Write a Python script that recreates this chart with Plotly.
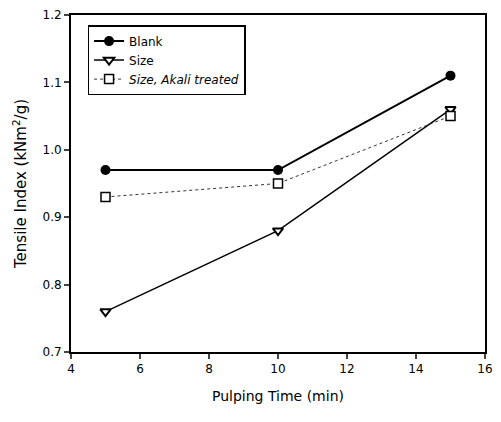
import plotly.graph_objects as go

time = [5, 10, 15]
blank = [0.97, 0.97, 1.11]
size = [0.76, 0.88, 1.06]
size_alkali = [0.93, 0.95, 1.05]
x_ticks = [4, 6, 8, 10, 12, 14, 16]
y_ticks = [0.7, 0.8, 0.9, 1.0, 1.1, 1.2]

fig = go.Figure()
fig.add_trace(go.Scatter(x=time, y=blank, name="Blank", mode="lines+markers",
                         line=dict(color="black", width=2),
                         marker=dict(symbol="circle", size=10, color="black")))
fig.add_trace(go.Scatter(x=time, y=size, name="Size", mode="lines+markers",
                         line=dict(color="black", width=1.5),
                         marker=dict(symbol="triangle-down", size=9, color="white",
                                     line=dict(color="black", width=2))))
fig.add_trace(go.Scatter(x=time, y=size_alkali, name="<i>Size, Akali treated</i>", mode="lines+markers",
                         line=dict(color="#333333", width=1, dash="dot"),
                         marker=dict(symbol="square", size=9, color="white",
                                     line=dict(color="black", width=1.5))))

fig.update_layout(
    width=501, height=422,
    margin=dict(l=71, r=8, t=15, b=70),
    paper_bgcolor="white", plot_bgcolor="white",
    font=dict(family="DejaVu Sans", color="black", size=12),
    showlegend=True,
    legend=dict(x=0.04, y=0.97, xanchor="left", yanchor="top",
                bordercolor="black", borderwidth=1.5, bgcolor="white",
                font=dict(size=12), tracegroupgap=0, itemwidth=30),
    xaxis=dict(range=[4, 16], tickvals=x_ticks, ticks="outside", ticklen=5,
               tickwidth=1.5, showline=True, linecolor="black", linewidth=2,
               mirror=True, showgrid=False, zeroline=False,
               tickfont=dict(size=12),
               title=dict(text="Pulping Time (min)", font=dict(size=14), standoff=16)),
    yaxis=dict(range=[0.7, 1.2], tickvals=y_ticks, ticktext=["0.7", "0.8", "0.9", "1.0", "1.1", "1.2"],
               ticks="outside", ticklen=5, tickwidth=1.5, showline=True,
               linecolor="black", linewidth=2, mirror=True, showgrid=False,
               zeroline=False, tickfont=dict(size=12),
               title=dict(text="Tensile Index (kNm<sup>2</sup>/g)", font=dict(size=15), standoff=12)),
)

fig.write_html("out.html")
